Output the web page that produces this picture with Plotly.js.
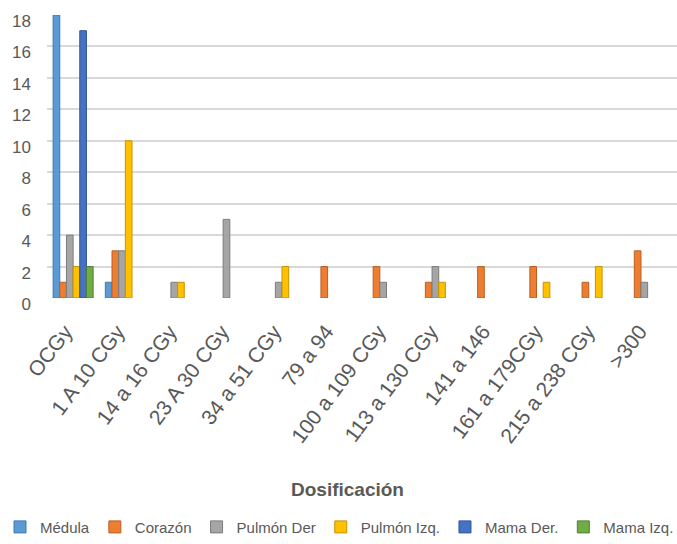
<!DOCTYPE html>
<html>
<head>
<meta charset="utf-8">
<script src="https://cdn.plot.ly/plotly-3.0.1.min.js"></script>
<style>
  html, body { margin: 0; padding: 0; overflow: hidden; background: #ffffff; }
  #chart { width: 820px; height: 544px; }
</style>
</head>
<body>
<div id="chart"></div>
<script>
// Dose ranges (x categories)
const categories = [
  'OCGy', '1 A 10 CGy', '14 a 16 CGy', '23 A 30 CGy', '34 a 51 CGy', '79 a 94',
  '100 a 109 CGy', '113 a 130 CGy', '141 a 146', '161 a 179CGy', '215 a 238 CGy', '>300'
];

// Counts per organ for each dose range
const medula    = [18, 1, 0, 0, 0, 0, 0, 0, 0, 0, 0, 0];
const corazon   = [1, 3, 0, 0, 0, 2, 2, 1, 2, 2, 1, 3];
const pulmonDer = [4, 3, 1, 5, 1, 0, 1, 2, 0, 0, 0, 1];
const pulmonIzq = [2, 10, 1, 0, 2, 0, 0, 1, 0, 1, 2, 0];
const mamaDer   = [17, 0, 0, 0, 0, 0, 0, 0, 0, 0, 0, 0];
const mamaIzq   = [2, 0, 0, 0, 0, 0, 0, 0, 0, 0, 0, 0];

const yTicks = [0, 2, 4, 6, 8, 10, 12, 14, 16, 18];

const seriesNames = ['Médula', 'Corazón', 'Pulmón Der', 'Pulmón Izq.', 'Mama Der.', 'Mama Izq.'];
const seriesValues = [medula, corazon, pulmonDer, pulmonIzq, mamaDer, mamaIzq];
const fillColors = ['#5B9BD5', '#ED7D31', '#A5A5A5', '#FFC000', '#4472C4', '#70AD47'];
const edgeColors = ['#3f78ad', '#b95f22', '#7c7c7c', '#c69400', '#2f5597', '#507e32'];

const font = '"Liberation Sans", Arial, sans-serif';
const textGray = '#595959';

const traces = seriesNames.map((name, i) => ({
  type: 'bar',
  name: name,
  x: categories,
  y: seriesValues[i],
  marker: {
    color: fillColors[i],
    // outline only on bars that have height, so empty slots stay blank
    line: { color: edgeColors[i], width: seriesValues[i].map(v => (v > 0 ? 1 : 0)) }
  },
  hoverinfo: 'x+y+name'
}));

const layout = {
  width: 820,
  height: 544,
  margin: { l: 47, r: 0, t: 15, b: 246 },
  paper_bgcolor: '#ffffff',
  plot_bgcolor: '#ffffff',
  barmode: 'group',
  bargap: 0.234,
  bargroupgap: 0,
  showlegend: true,
  xaxis: {
    type: 'category',
    // the wide figure is clipped by the page; keep ~52px per dose range
    range: [-0.5, 14.3],
    automargin: false,
    showgrid: false,
    zeroline: false,
    showline: false,
    ticks: 'outside',
    ticklen: 12,
    tickcolor: 'rgba(0,0,0,0)',
    ticklabelshift: -8,
    tickangle: -53,
    tickfont: { family: font, size: 21, color: textGray },
    fixedrange: true
  },
  yaxis: {
    range: [0, 18],
    automargin: false,
    tickvals: yTicks,
    ticktext: yTicks.map(String),
    showgrid: true,
    gridcolor: '#d9d9d9',
    gridwidth: 2,
    zeroline: false,
    showline: false,
    ticks: '',
    ticklabelstandoff: 15,
    ticklabelshift: 6,
    tickfont: { family: font, size: 17, color: textGray },
    fixedrange: true
  },
  legend: {
    orientation: 'h',
    xref: 'container',
    yref: 'container',
    x: 0,
    xanchor: 'left',
    y: 0.031,
    yanchor: 'middle',
    itemwidth: 30,
    bgcolor: 'rgba(0,0,0,0)',
    font: { family: font, size: 15, color: textGray }
  },
  annotations: [{
    text: '<b>Dosificación</b>',
    xref: 'paper', yref: 'paper',
    x: 300 / 773, y: -0.678,
    xanchor: 'center', yanchor: 'middle',
    showarrow: false,
    font: { family: font, size: 19, color: textGray }
  }]
};

Plotly.newPlot('chart', traces, layout, { displayModeBar: false, staticPlot: true });
</script>
</body>
</html>
